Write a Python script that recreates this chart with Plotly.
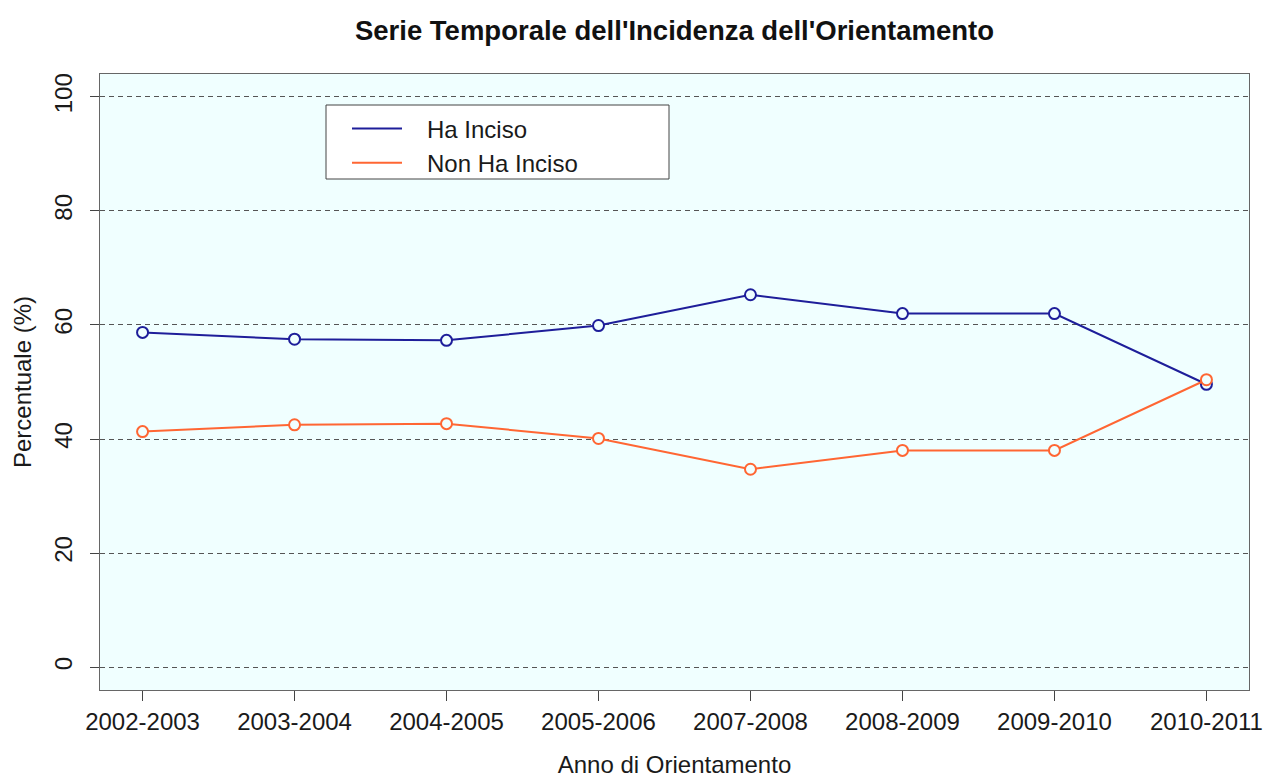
import plotly.graph_objects as go

anni = ["2002-2003", "2003-2004", "2004-2005", "2005-2006",
        "2007-2008", "2008-2009", "2009-2010", "2010-2011"]
ha_inciso = [58.7, 57.5, 57.3, 59.9, 65.3, 62.0, 62.0, 49.6]
non_ha_inciso = [41.3, 42.5, 42.7, 40.1, 34.7, 38.0, 38.0, 50.4]
y_ticks = [0, 20, 40, 60, 80, 100]

BLUE = "#1e1e9a"
ORANGE = "#ff6633"
BG = "#f0ffff"
FONT = "Liberation Sans, Arial, sans-serif"
TXT = "#1a1a1a"

W, H = 1267, 778
L, R, T, B = 100, 18, 74, 88
PW, PH = W - L - R, H - T - B

def px_x(page_x):
    return (page_x - L) / PW

def px_y(page_y):
    return 1 - (page_y - T) / PH

xpos = list(range(len(anni)))

fig = go.Figure()
for name, vals, col in [("Ha Inciso", ha_inciso, BLUE), ("Non Ha Inciso", non_ha_inciso, ORANGE)]:
    fig.add_trace(go.Scatter(
        x=xpos, y=vals, mode="lines+markers", name=name, showlegend=False,
        line=dict(color=col, width=2),
        marker=dict(symbol="circle", size=11, color=BG, line=dict(width=2, color=col)),
    ))
for name, col in [("Ha Inciso", BLUE), ("Non Ha Inciso", ORANGE)]:
    fig.add_trace(go.Scatter(x=[None], y=[None], mode="lines", name="\u00a0\u00a0\u00a0" + name,
                             line=dict(color=col, width=2)))

fig.update_layout(
    width=W, height=H,
    margin=dict(l=L, r=R, t=T, b=B, autoexpand=False),
    paper_bgcolor="white",
    plot_bgcolor=BG,
    font=dict(family=FONT, size=24, color=TXT),
    title=dict(text="<b>Serie Temporale dell'Incidenza dell'Orientamento</b>",
               x=674.5 / W, xanchor="center", y=1 - 30 / H, yanchor="middle",
               font=dict(size=27.5, color="#111111", family=FONT)),
    legend=dict(x=px_x(347), y=px_y(106.5), xanchor="left", yanchor="top",
                bgcolor="rgba(0,0,0,0)", borderwidth=0,
                font=dict(size=24, color=TXT),
                tracegroupgap=0, itemwidth=50),
    showlegend=True,
)

fig.add_shape(type="rect", xref="paper", yref="paper",
              x0=px_x(326), x1=px_x(669), y0=px_y(179), y1=px_y(105),
              line=dict(color="#444444", width=1), fillcolor="white", layer="below")

fig.update_xaxes(
    range=[-0.28, 7.28], tickmode="array", tickvals=xpos, ticktext=anni,
    ticks="outside", ticklen=10, tickcolor="#444444", tickwidth=1,
    showgrid=False, zeroline=False, automargin=False,
    showline=True, linecolor="#666666", linewidth=1, mirror=True,
    tickfont=dict(size=24, color=TXT),
    title=dict(text="Anno di Orientamento", font=dict(size=24, color=TXT), standoff=27),
)
fig.update_yaxes(
    range=[-4, 104], tickmode="array", tickvals=y_ticks,
    ticks="outside", ticklen=9, tickcolor="#444444", tickwidth=1, tickangle=-90,
    ticklabelstandoff=8, automargin=False,
    showgrid=True, gridcolor="#555555", gridwidth=1, griddash="5px,4px",
    zeroline=False,
    showline=True, linecolor="#666666", linewidth=1, mirror=True,
    tickfont=dict(size=24, color=TXT),
    title=dict(text="Percentuale (%)", font=dict(size=24, color=TXT), standoff=12),
)

fig.write_html("out.html", config={"displayModeBar": False},
               post_script="document.body.style.margin='0';document.body.style.overflow='hidden';")
